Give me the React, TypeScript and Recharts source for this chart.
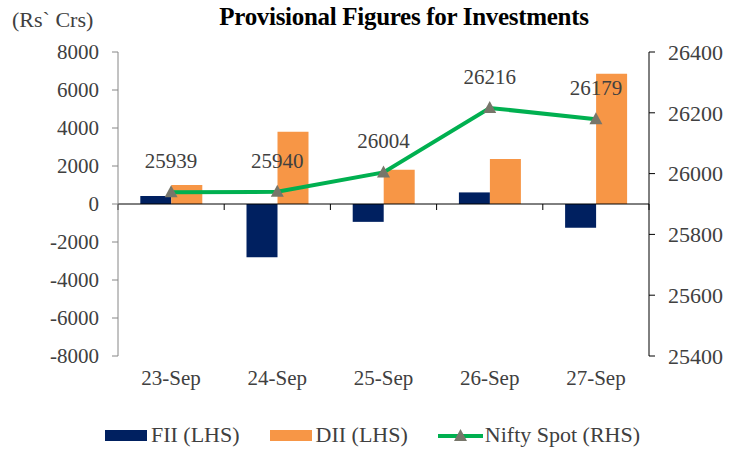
import React from "react";
import { ComposedChart, Bar, Line, XAxis, YAxis, ReferenceLine, Legend, LabelList } from "recharts";

const dates = ["23-Sep", "24-Sep", "25-Sep", "26-Sep", "27-Sep"];
const fiiValues = [420, -2800, -940, 610, -1250];
const diiValues = [1000, 3800, 1800, 2370, 6850];
const niftyValues = [25939, 25940, 26004, 26216, 26179];
const leftTicks = [-8000, -6000, -4000, -2000, 0, 2000, 4000, 6000, 8000];
const rightTicks = [25400, 25600, 25800, 26000, 26200, 26400];
const seriesNames = ["FII (LHS)", "DII (LHS)", "Nifty Spot (RHS)"];

const data = dates.map((d, i) => ({ date: d, fii: fiiValues[i], dii: diiValues[i], nifty: niftyValues[i] }));

const FONT = "'Liberation Serif', 'Times New Roman', serif";
const TEXT = "#404040";
const FII_COLOR = "#002060";
const DII_COLOR = "#F79646";
const LINE_COLOR = "#00B050";
const MARKER_COLOR = "#77766A";

function Triangle(props: any) {
  const { cx, cy } = props;
  if (cx == null || cy == null) return null;
  return <path d={`M${cx},${cy - 7} L${cx + 6.5},${cy + 5} L${cx - 6.5},${cy + 5} Z`} fill={MARKER_COLOR} />;
}

// zero line with small category separators hanging below it
function ZeroAxis(props: any) {
  const { x1, x2, y1 } = props;
  if (x1 == null || y1 == null) return null;
  const step = (x2 - x1) / dates.length;
  return (
    <g>
      <line x1={x1} x2={x2} y1={y1} y2={y1} stroke="#000" strokeWidth={1} />
      {Array.from({ length: dates.length + 1 }, (_, i) => (
        <line key={i} x1={x1 + i * step} x2={x1 + i * step} y1={y1} y2={y1 + 6} stroke="#000" />
      ))}
    </g>
  );
}

function LegendContent(props: any) {
  const items = [...(props.payload || [])].sort(
    (a: any, b: any) => seriesNames.indexOf(a.value) - seriesNames.indexOf(b.value)
  );
  return (
    <div style={{ display: "flex", justifyContent: "center", alignItems: "center", gap: 30, paddingLeft: 10, fontFamily: FONT, fontSize: 22, color: TEXT, height: 30 }}>
      {items.map((it: any) => (
        <div key={it.value} style={{ display: "flex", alignItems: "center" }}>
          {it.type === "line" ? (
            <svg width={45} height={16} style={{ marginRight: 2 }}>
              <line x1={0} x2={45} y1={9} y2={9} stroke={LINE_COLOR} strokeWidth={4} />
              <path d="M22.5,2 L29,14 L16,14 Z" fill={MARKER_COLOR} />
            </svg>
          ) : (
            <span style={{ width: 42, height: 11, background: it.color, marginRight: 4, display: "inline-block" }} />
          )}
          <span>{it.value}</span>
        </div>
      ))}
    </div>
  );
}

export default function App() {
  return (
    <div className="chart-box" style={{ position: "absolute", left: 0, top: 0, width: 735, height: 450, background: "#fff", fontFamily: FONT }}>
      <style>{`.chart-box svg text, .chart-box svg tspan { font-family: 'Liberation Serif', 'Times New Roman', serif !important; }`}</style>
      <div style={{ position: "absolute", left: 12, top: 7, fontSize: 22, color: TEXT }}>(Rs` Crs)</div>
      <div style={{ position: "absolute", left: 0, width: 808, top: 3, textAlign: "center", fontSize: 25, fontWeight: "bold", letterSpacing: -0.3, color: "#000" }}>
        Provisional Figures for Investments
      </div>
      <ComposedChart
        width={735}
        height={450}
        data={data}
        margin={{ top: 52, right: 6, bottom: 0, left: 18 }}
        barCategoryGap="21%"
        barGap={0}
      >
        <XAxis
          dataKey="date"
          axisLine={false}
          tickLine={false}
          tickSize={0}
          tickMargin={14}
          height={64}
          tick={{ fill: TEXT, fontSize: 21, fontFamily: FONT }}
        />
        <YAxis
          yAxisId="left"
          domain={[-8000, 8000]}
          ticks={leftTicks}
          width={100}
          tickSize={6}
          tickMargin={13}
          axisLine={{ stroke: "#868686" }}
          tickLine={{ stroke: "#868686" }}
          tick={{ fill: TEXT, fontSize: 21, fontFamily: FONT }}
          interval={0}
        />
        <YAxis
          yAxisId="right"
          orientation="right"
          domain={[25400, 26400]}
          ticks={rightTicks}
          width={80}
          tickSize={6}
          tickMargin={13}
          axisLine={{ stroke: "#000" }}
          tickLine={{ stroke: "#000" }}
          tick={{ fill: TEXT, fontSize: 22, fontFamily: FONT, textAnchor: "start" }}
          interval={0}
        />
        <ReferenceLine yAxisId="left" y={0} shape={ZeroAxis} />
        <Bar yAxisId="left" dataKey="fii" name={seriesNames[0]} fill={FII_COLOR} isAnimationActive={false} />
        <Bar yAxisId="left" dataKey="dii" name={seriesNames[1]} fill={DII_COLOR} isAnimationActive={false} />
        <Line
          yAxisId="right"
          dataKey="nifty"
          name={seriesNames[2]}
          stroke={LINE_COLOR}
          strokeWidth={4}
          dot={<Triangle />}
          activeDot={false}
          legendType="line"
          isAnimationActive={false}
        >
          <LabelList dataKey="nifty" position="top" offset={24} fill={TEXT} fontSize={21} fontFamily={FONT} />
        </Line>
        <Legend verticalAlign="bottom" height={30} content={LegendContent} wrapperStyle={{ bottom: 0, left: 0, width: 735 }} />
      </ComposedChart>
    </div>
  );
}
